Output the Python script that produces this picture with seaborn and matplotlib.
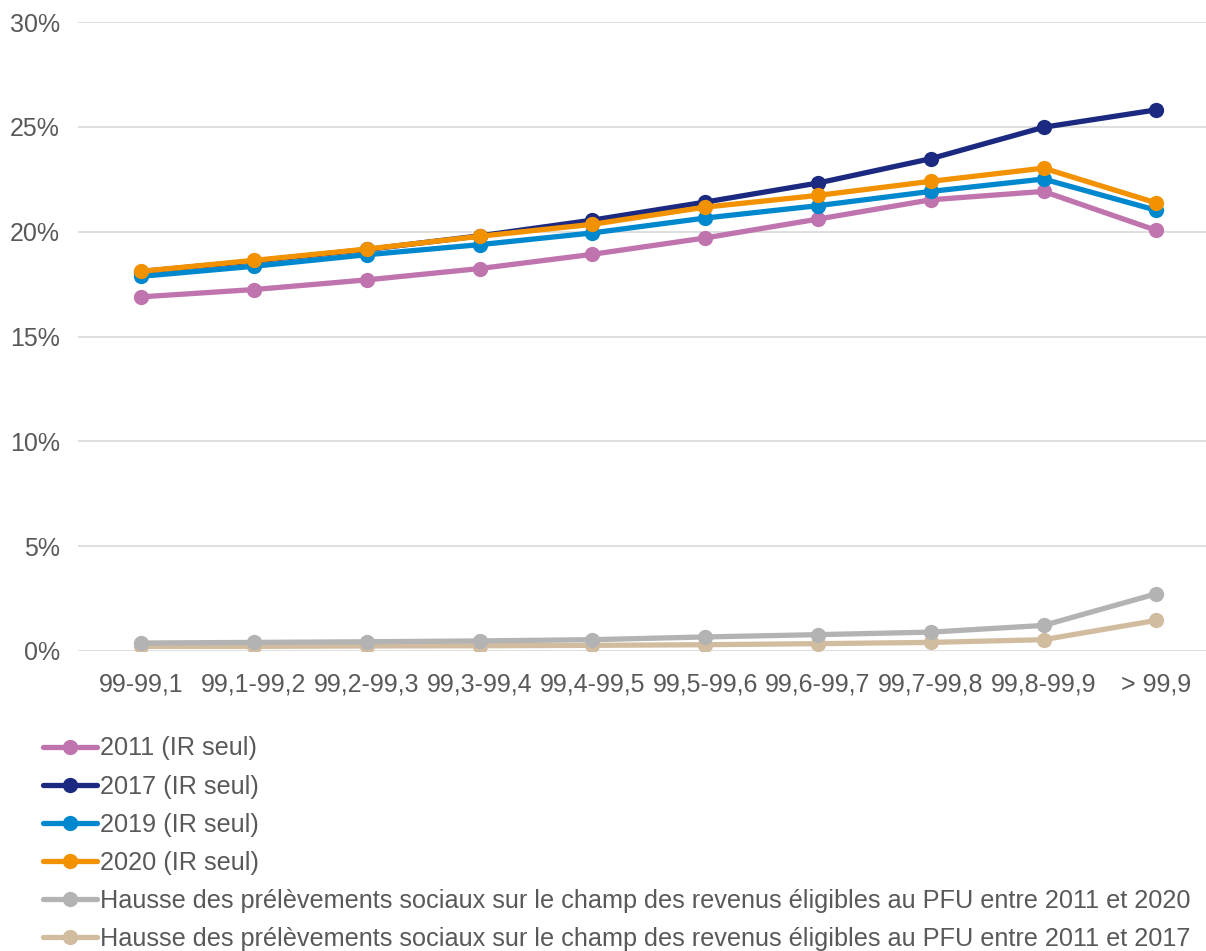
import matplotlib
matplotlib.use("Agg")
import matplotlib.pyplot as plt
import seaborn as sns
import pandas as pd
from matplotlib.ticker import FuncFormatter

categories = ["99-99,1", "99,1-99,2", "99,2-99,3", "99,3-99,4", "99,4-99,5",
              "99,5-99,6", "99,6-99,7", "99,7-99,8", "99,8-99,9", "> 99,9"]

s2011 = [16.89, 17.24, 17.70, 18.24, 18.92, 19.70, 20.60, 21.52, 21.92, 20.06]
s2017 = [18.10, 18.60, 19.15, 19.80, 20.55, 21.41, 22.32, 23.48, 24.98, 25.81]
s2019 = [17.87, 18.35, 18.90, 19.38, 19.94, 20.65, 21.24, 21.92, 22.51, 21.02]
s2020 = [18.11, 18.63, 19.17, 19.78, 20.35, 21.17, 21.73, 22.40, 23.03, 21.37]
ps2020 = [0.38, 0.41, 0.44, 0.48, 0.54, 0.67, 0.78, 0.90, 1.22, 2.73]
ps2017 = [0.22, 0.22, 0.24, 0.25, 0.27, 0.30, 0.35, 0.41, 0.54, 1.46]

series_names = [
    "2011 (IR seul)",
    "2017 (IR seul)",
    "2019 (IR seul)",
    "2020 (IR seul)",
    "Hausse des prélèvements sociaux sur le champ des revenus éligibles au PFU entre 2011 et 2020",
    "Hausse des prélèvements sociaux sur le champ des revenus éligibles au PFU entre 2011 et 2017",
]
series_values = [s2011, s2017, s2019, s2020, ps2020, ps2017]
colors = ["#C074AE", "#1B2A80", "#0088CE", "#F39200", "#B3B3B3", "#D2BCA0"]
yticks = [0, 5, 10, 15, 20, 25, 30]

sns.set_theme(style="white")
plt.rcParams["font.family"] = ["Liberation Sans", "DejaVu Sans"]

fig = plt.figure(figsize=(12.06, 9.51), dpi=100)
ax = fig.add_axes([78 / 1206, (951 - 651) / 951, 1 - 78 / 1206, (651 - 22) / 951])

rows = []
for name, vals in zip(series_names, series_values):
    for c, v in zip(categories, vals):
        rows.append({"cat": c, "val": v, "serie": name})
df = pd.DataFrame(rows)
df["pos"] = df["cat"].map({c: i for i, c in enumerate(categories)})

# draw bottom series first so upper ones overlay like reference
draw_order = [5, 4, 0, 1, 2, 3]
for i in draw_order:
    name = series_names[i]
    sub = df[df["serie"] == name]
    sns.lineplot(data=sub, x="pos", y="val", color=colors[i], marker="o",
                 markersize=11, markeredgewidth=0, linewidth=3.8, label=name,
                 ax=ax, sort=False)

ax.set_xlim(-0.56, 9.44)
ax.set_ylim(0, 30)
ax.set_yticks(yticks)
ax.yaxis.set_major_formatter(FuncFormatter(lambda v, p: f"{int(v)}%"))
ax.set_xticks(range(len(categories)))
ax.set_xticklabels(categories)
ax.set_xlabel("")
ax.set_ylabel("")
ax.grid(axis="y", color="#D9D9D9", linewidth=1.2)
ax.grid(axis="x", visible=False)
ax.set_axisbelow(True)
for sp in ax.spines.values():
    sp.set_visible(False)
ax.tick_params(axis="both", length=0, labelsize=18, colors="#595959")
ax.tick_params(axis="y", pad=13)
ax.tick_params(axis="x", pad=15.5)

handles, labels = ax.get_legend_handles_labels()
hmap = dict(zip(labels, handles))
ax.get_legend().remove()
leg = fig.legend([hmap[n] for n in series_names], series_names,
                 loc="upper left", bbox_to_anchor=(43 / 1206, 1 - 736.5 / 951),
                 frameon=False, fontsize=18.2, handlelength=2.15, handletextpad=0.12,
                 labelspacing=0.555, borderpad=0, borderaxespad=0)
for t in leg.get_texts():
    t.set_color("#595959")

fig.savefig("out.png", dpi=100)
